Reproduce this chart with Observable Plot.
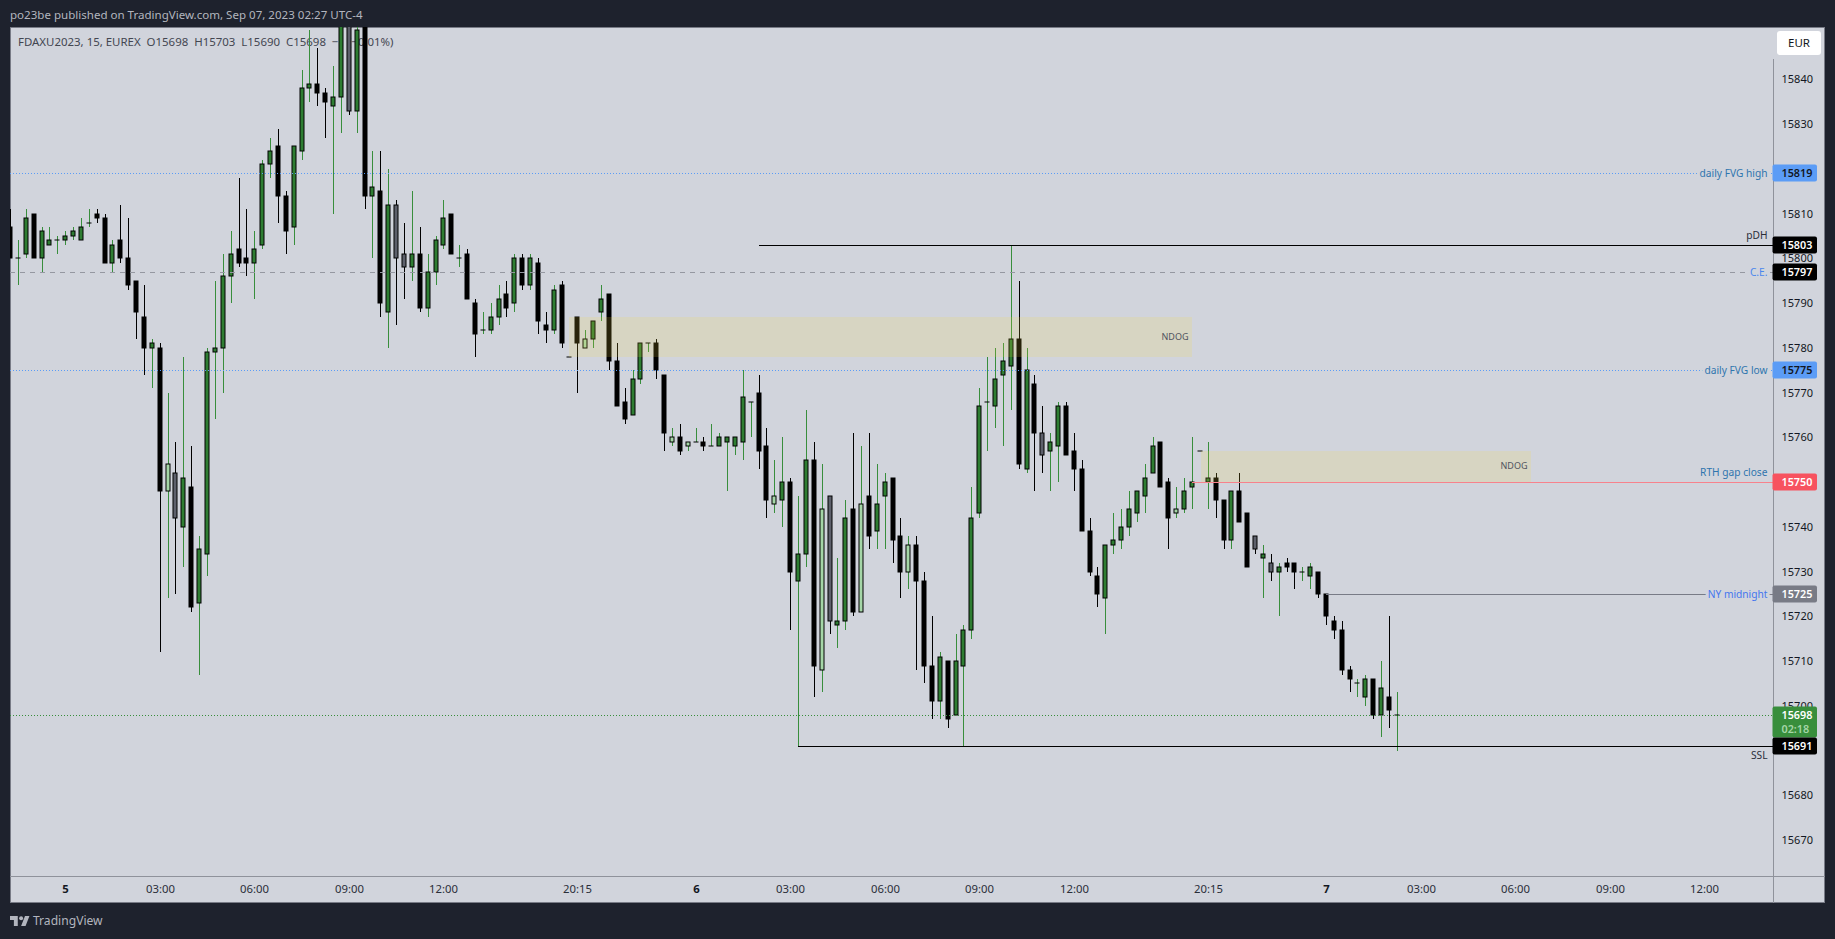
<!DOCTYPE html>
<html>
<head>
<meta charset="utf-8">
<script src="https://cdn.jsdelivr.net/npm/d3@7"></script>
<script src="https://cdn.jsdelivr.net/npm/@observablehq/plot@0.6"></script>
<style>
html,body{margin:0;padding:0;width:1835px;height:939px;overflow:hidden;background:#1e222d;font-family:"Noto Sans",sans-serif}
.abs{position:absolute;white-space:pre}
#panel{left:10px;top:27px;width:1815px;height:876px;background:#d1d4dc;box-sizing:border-box;border:1px solid #787b86}
#title{left:10px;top:5px;font-size:11.55px;line-height:20px;color:#b2b5be}
#legend{left:18px;top:32px;font-size:11.45px;line-height:20px;color:#434651}
#axisV{left:1773px;top:59px;width:1px;height:844px;background:#8f929b}
#axisH{left:10px;top:876px;width:1815px;height:1px;background:#8f929b}
#eur{left:1777px;top:31px;width:44px;height:24px;background:#fff;border-radius:3px;text-align:center;font-size:11.5px;line-height:24px;color:#131722}
#chart{position:absolute;left:0;top:27px}
#foot{left:33px;top:910px;font-size:12.1px;line-height:22px;color:#b2b5be}
#logo{position:absolute;left:10px;top:916px}
</style>
</head>
<body>
<div class="abs" id="panel"></div>
<div class="abs" id="title">po23be published on TradingView.com, Sep 07, 2023 02:27 UTC-4</div>
<div class="abs" id="legend">FDAXU2023, 15, EUREX  O15698  H15703  L15690  C15698  −1 (−0.01%)</div>
<div class="abs" id="axisV"></div>
<div class="abs" id="axisH"></div>
<div class="abs" id="eur">EUR</div>
<div id="chart"></div>
<svg id="logo" width="20" height="10" viewBox="0 0 36 18"><path fill="#b2b5be" d="M14 18H7V7H0V0h14zM28 18h-8L27 0h8z"/><circle fill="#b2b5be" cx="20" cy="4" r="3.6"/></svg>
<div class="abs" id="foot">TradingView</div>
<script>
const firstIndex = -7;
const opens = [
15807,15800,15801,15810,15800,15803,15804,15804,15805,15804,15808,15810,15809,15799,15804,15800,15795,15787,15780,15780,
15748,15752,15740,15749,15723,15734,15779,15780,15796,15802,15800,15799,15803,15821,15825,15814,15807,15824,15838,15839,
15837,15834,15836,15858,15833,15854,15814,15815,15788,15812,15801,15798,15801,15789,15797,15803,15810,15800,15801,15790,
15784,15784,15787,15792,15790,15800,15794,15799,15785,15784,15794,15778,15787,15780,15782,15788,15792,15777,15768,15765,
15773,15781,15781,15774,15759,15760,15758,15759,15759,15758,15758,15759,15758,15759,15768,15770,15758,15745,15746,15750,
15728,15734,15755,15708,15747,15718,15719,15744,15721,15747,15739,15747,15751,15738,15730,15736,15728,15709,15701,15710,
15698,15709,15717,15743,15768,15767,15774,15776,15782,15753,15772,15761,15757,15758,15767,15757,15753,15739,15729,15724,
15736,15737,15740,15743,15747,15752,15759,15750,15743,15744,15749,15757,15750,15751,15746,15737,15748,15743,15738,15733,
15732,15730,15732,15732,15730,15729,15730,15725,15719,15717,15708,15705,15702,15706,15698,15702,15698];
const highs = [
15811,15804,15811,15810,15807,15807,15805,15806,15807,15809,15811,15811,15810,15804,15812,15809,15795,15794,15782,15781,
15770,15759,15778,15758,15738,15780,15795,15801,15806,15818,15811,15806,15822,15827,15829,15815,15825,15842,15851,15847,
15838,15843,15858,15860,15853,15856,15824,15824,15820,15813,15808,15815,15807,15801,15805,15813,15810,15803,15802,15791,
15788,15790,15794,15795,15801,15801,15801,15800,15788,15794,15795,15778,15787,15784,15786,15794,15792,15781,15771,15775,
15781,15781,15782,15774,15762,15763,15759,15762,15760,15763,15761,15760,15760,15775,15768,15774,15762,15755,15760,15751,
15747,15766,15759,15754,15747,15733,15746,15761,15758,15761,15754,15752,15751,15742,15738,15738,15730,15720,15712,15710,
15716,15718,15749,15771,15778,15780,15781,15803,15795,15780,15774,15767,15761,15768,15768,15761,15755,15742,15731,15736,
15743,15744,15748,15748,15754,15760,15759,15751,15749,15751,15760,15757,15759,15752,15746,15748,15752,15743,15738,15736,
15734,15732,15733,15732,15731,15732,15730,15725,15720,15719,15709,15706,15707,15706,15710,15720,15703];
const lows = [
15800,15794,15800,15800,15797,15803,15801,15803,15804,15804,15807,15808,15799,15797,15799,15793,15782,15774,15771,15712,
15724,15725,15731,15721,15707,15729,15764,15770,15790,15798,15796,15791,15802,15818,15808,15801,15803,15822,15835,15834,
15827,15810,15828,15832,15828,15811,15800,15787,15780,15785,15791,15795,15788,15787,15794,15802,15801,15798,15791,15778,
15783,15783,15785,15787,15788,15793,15793,15783,15781,15783,15780,15778,15770,15780,15780,15786,15775,15767,15763,15765,
15772,15779,15773,15757,15758,15756,15757,15759,15757,15758,15758,15748,15756,15755,15760,15753,15742,15743,15740,15717,
15691,15731,15702,15703,15716,15713,15717,15720,15721,15735,15735,15735,15732,15724,15726,15708,15705,15697,15697,15695,
15698,15691,15715,15742,15757,15762,15758,15766,15753,15752,15748,15752,15748,15750,15756,15748,15739,15729,15722,15716,
15734,15735,15738,15741,15743,15752,15749,15735,15742,15743,15744,15757,15744,15742,15735,15735,15741,15731,15734,15724,
15728,15720,15730,15726,15728,15726,15724,15718,15715,15707,15703,15702,15700,15697,15693,15695,15690];
const closes = [
15800,15800,15809,15800,15806,15804,15804,15805,15806,15807,15808,15809,15799,15803,15800,15794,15788,15780,15781,15748,
15754,15742,15751,15722,15735,15779,15780,15796,15801,15799,15799,15802,15821,15824,15814,15806,15825,15838,15839,15837,
15835,15836,15856,15833,15851,15814,15816,15790,15812,15800,15798,15801,15789,15797,15804,15809,15801,15800,15791,15783,
15784,15787,15791,15789,15800,15794,15800,15786,15784,15793,15781,15778,15781,15782,15786,15791,15777,15767,15764,15773,
15781,15781,15775,15761,15760,15757,15759,15759,15758,15758,15760,15760,15760,15769,15768,15757,15746,15747,15750,15730,
15734,15755,15709,15744,15719,15719,15742,15721,15745,15738,15745,15750,15737,15730,15736,15728,15709,15701,15711,15697,
15710,15717,15742,15767,15768,15773,15777,15782,15754,15775,15761,15756,15759,15767,15756,15753,15739,15730,15725,15736,
15737,15740,15744,15748,15751,15758,15749,15742,15744,15748,15750,15757,15751,15746,15737,15748,15741,15731,15735,15734,
15730,15731,15731,15730,15730,15731,15725,15720,15717,15708,15706,15705,15706,15698,15704,15699,15698];
const tones = [
"k","g","g","k","g","g","g","g","g","g","g","k","k","g","k","k","k","k","g","k",
"l","s","g","k","g","g","g","g","g","k","k","g","g","g","k","k","g","g","g","k",
"k","g","g","s","g","k","g","k","g","s","s","g","k","g","g","g","k","g","k","k",
"g","g","g","k","g","k","g","k","k","g","k","k","k","l","g","g","k","k","k","g",
"g","g","k","k","l","k","l","g","k","g","g","g","g","g","g","k","k","l","g","k",
"g","g","k","l","s","g","g","k","l","k","g","g","k","k","l","k","k","k","g","k",
"g","g","g","g","g","g","g","g","k","g","k","s","g","g","k","k","k","k","k","g",
"g","g","g","g","g","g","k","k","l","g","g","k","g","k","k","g","k","k","s","g",
"s","g","k","k","g","g","k","k","k","k","k","g","g","k","g","k","g"];

const priceTicks = [15840,15830,15820,15810,15800,15790,15780,15770,15760,15740,15730,15720,15710,15700,15680,15670];
const timeTicks = [12,24,36,48,65,92,104,116,128,145,172,184,196,208];
const timeLabels = ["03:00","06:00","09:00","12:00","20:15","03:00","06:00","09:00","12:00","20:15","03:00","06:00","09:00","12:00"];
const dayTicks = [0,80,160];
const dayLabels = ["5","6","7"];

const levelNames = ["daily FVG high","pDH","C.E.","daily FVG low","RTH gap close","NY midnight","SSL"];
const levelValues = [15819,15803,15797,15775,15750,15725,15691];
const levelStarts = [-7,88,-7,-7,143,160,93];
const lastPrice = 15698;
const lastCountdown = "02:18";
const zoneNames = ["NDOG","NDOG"];
const zoneStarts = [64,144.1];
const zoneEnds = [143,186];
const zoneTops = [15787,15757];
const zoneBottoms = [15778,15750];

const xMin = -6.999, xMax = 216.73, yMin = 15661.975, yMax = 15851.695;
const FONT = '"Noto Sans",sans-serif';
const fills = {g:"#2e7d32",k:"#000000",l:"#a5d6a7",s:"#5d606b"};
const wicks = {g:"#388e3c",k:"#000000",l:"#388e3c",s:"#000000"};
const lineStyle = [
 {stroke:"#5b9cf6",dash:"1,2",text:"#2f75ae",dy:0,halo:true},
 {stroke:"#000000",dash:null,text:"#2a2e39",dy:-10,halo:false},
 {stroke:"#9598a1",dash:"5,5",text:"#4a86ee",dy:0,halo:true},
 {stroke:"#5b9cf6",dash:"1,2",text:"#2f75ae",dy:0,halo:true},
 {stroke:"#f7828c",dash:null,text:"#2f75ae",dy:-10,halo:false},
 {stroke:"#787b86",dash:null,text:"#4476ee",dy:0,halo:true},
 {stroke:"#000000",dash:null,text:"#2a2e39",dy:9,halo:false}];
const tagStyle = [
 {fill:"#5b9cf6",text:"#131722"},{fill:"#000000",text:"#ffffff"},{fill:"#000000",text:"#ffffff"},
 {fill:"#5b9cf6",text:"#131722"},{fill:"#f7525f",text:"#ffffff"},{fill:"#787b86",text:"#ffffff"},{fill:"#000000",text:"#ffffff"}];

const candles = opens.map((o,k)=>({i:firstIndex+k,o,h:highs[k],l:lows[k],c:closes[k],t:tones[k]}));
const levels = levelValues.map((v,k)=>({v,name:levelNames[k],start:levelStarts[k],...lineStyle[k],fill:tagStyle[k].fill,ink:tagStyle[k].text}));
const zones = zoneNames.map((name,k)=>({name,x1:zoneStarts[k],x2:zoneEnds[k],y1:zoneBottoms[k],y2:zoneTops[k]}));
const timeText = new Map(timeTicks.map((t,k)=>[t,timeLabels[k]]));
const dayText = new Map(dayTicks.map((t,k)=>[t,dayLabels[k]]));

const marks = [
  Plot.axisY({ticks:priceTicks,anchor:"right",tickSize:0,tickPadding:8,tickFormat:d=>String(d),label:null,fill:"#131722",fontSize:11,textAnchor:"start"}),
  Plot.axisX({ticks:timeTicks,anchor:"bottom",tickSize:0,tickPadding:8,tickFormat:d=>timeText.get(d),label:null,fill:"#2a2e39",fontSize:11.3}),
  Plot.axisX({ticks:dayTicks,anchor:"bottom",tickSize:0,tickPadding:8,tickFormat:d=>dayText.get(d),label:null,fill:"#131722",fontSize:11.3,fontWeight:"bold"}),
  Plot.ruleX(candles,{x:"i",y1:"l",y2:"h",stroke:d=>wicks[d.t],strokeWidth:1,clip:true}),
  Plot.rect(candles.filter(d=>d.o!==d.c),{x1:"i",x2:"i",y1:"o",y2:"c",fill:d=>fills[d.t],stroke:"#000",strokeWidth:1,insetLeft:-2,insetRight:-2,clip:true}),
  Plot.rect(candles.filter(d=>d.o===d.c),{x1:"i",x2:"i",y1:"o",y2:"c",fill:"#000",insetLeft:-2.5,insetRight:-2.5,insetTop:-0.5,insetBottom:-0.5,clip:true}),
  Plot.rect(zones,{x1:"x1",x2:"x2",y1:"y1",y2:"y2",fill:"#fbdc3c",fillOpacity:0.16}),
  Plot.text(zones,{x:"x2",y:d=>(d.y1+d.y2)/2,text:"name",textAnchor:"end",dx:-4,fill:"#50535e",fontSize:9}),
  ...levels.map(l=>Plot.ruleY([l.v],{x1:l.start,x2:xMax,stroke:l.stroke,strokeWidth:1,strokeDasharray:l.dash})),
  Plot.ruleY([lastPrice],{x1:xMin,x2:xMax,stroke:"#388e3c",strokeWidth:1,strokeDasharray:"1,2"}),
  Plot.text(levels.filter(l=>l.halo),{x:xMax,y:"v",text:"name",textAnchor:"end",dx:-6,fill:"text",fontSize:10.2,stroke:"#d1d4dc",strokeWidth:6}),
  Plot.text(levels.filter(l=>!l.halo&&l.dy<0),{x:xMax,y:"v",text:"name",textAnchor:"end",dx:-6,dy:-10,fill:"text",fontSize:10.2}),
  Plot.text(levels.filter(l=>!l.halo&&l.dy>0),{x:xMax,y:"v",text:"name",textAnchor:"end",dx:-6,dy:9,fill:"text",fontSize:10.2}),
  Plot.rect([lastPrice],{x1:xMax,x2:xMax,y1:d=>d,y2:d=>d,fill:"#388e3c",insetLeft:-0.5,insetRight:-44,insetTop:-8.5,insetBottom:-22.5,rx:2}),
  Plot.text([lastPrice],{x:xMax,y:d=>d,text:d=>String(d),textAnchor:"start",dx:8,fill:"#fff",fontSize:10.8,fontWeight:600}),
  Plot.text([lastCountdown],{x:xMax,y:()=>lastPrice,text:d=>d,textAnchor:"start",dx:8,dy:14,fill:"#a5d6a7",fontSize:10.8,fontWeight:600}),
  Plot.rect(levels,{x1:xMax,x2:xMax,y1:"v",y2:"v",fill:"fill",insetLeft:-0.5,insetRight:-44,insetTop:-8.5,insetBottom:-8.5,rx:2}),
  Plot.text(levels,{x:xMax,y:"v",text:d=>String(d.v),textAnchor:"start",dx:8,fill:"ink",fontSize:10.8,fontWeight:600})
];

const chart = Plot.plot({
  width:1835,height:876,
  marginTop:0,marginBottom:27,marginLeft:10,marginRight:62,
  style:{background:"transparent",fontFamily:FONT,overflow:"visible"},
  x:{domain:[xMin,xMax],round:true},
  y:{domain:[yMin,yMax],round:true},
  color:{type:"identity"},
  marks
});
document.getElementById("chart").appendChild(chart);
</script>
</body>
</html>
